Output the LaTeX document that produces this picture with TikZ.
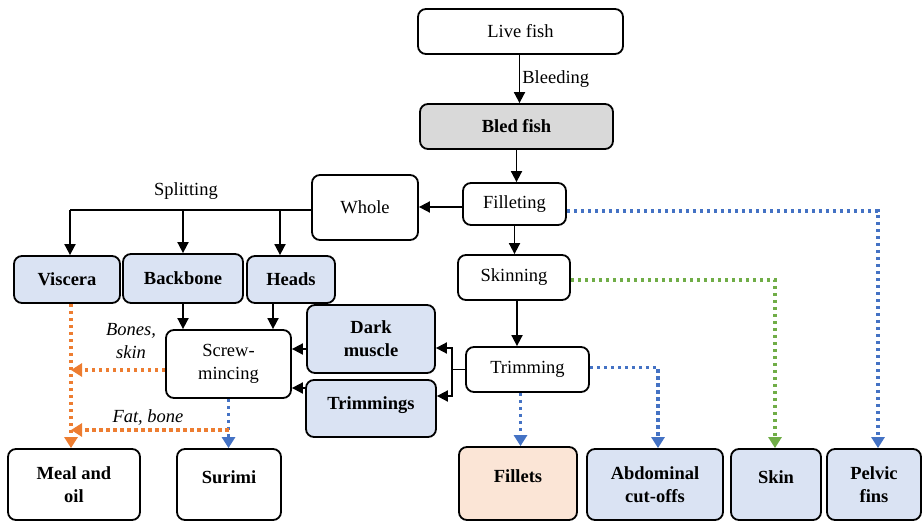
\documentclass[tikz,border=0pt]{standalone}
\usepackage{fontspec}
\setmainfont{Liberation Serif}
\usetikzlibrary{arrows.meta}
\definecolor{boxblue}{HTML}{DAE3F3}
\definecolor{boxgray}{HTML}{D9D9D9}
\definecolor{boxpeach}{HTML}{FBE5D6}
\definecolor{lnblue}{HTML}{4472C4}
\definecolor{lngreen}{HTML}{70AD47}
\definecolor{lnorange}{HTML}{ED7D31}
\begin{document}
\begin{tikzpicture}[x=1pt,y=-1pt,
  every node/.style={font=\fontsize{18.5}{23}\selectfont},
  box/.style={draw, rounded corners=8pt, line width=1.8pt, align=center, inner sep=0pt},
  side/.style={box, fill=boxblue, font=\fontsize{18.5}{23}\selectfont\bfseries},
  final/.style={box, font=\fontsize{18.5}{23}\selectfont\bfseries},
  arr/.style={line width=1.8pt, -{Triangle[length=11pt,width=11pt]}},
  dotarr/.style={line width=3.5pt, dash pattern=on 3.5pt off 3.5pt, -{Triangle[length=11pt,width=13pt]}},
  note/.style={font=\fontsize{18.5}{23}\selectfont\itshape, align=center}]
\useasboundingbox (0,0) rectangle (923,521);

% main processing chain
\node[box, minimum width=205pt, minimum height=45pt] (live) at (520.5,31.5) {Live fish};
\node[box, fill=boxgray, font=\fontsize{18.5}{23}\selectfont\bfseries, minimum width=193pt, minimum height=45pt] (bled) at (516.5,126.5) {Bled fish};
\node[box, minimum width=103pt, minimum height=42pt] (fillet) at (514.5,204) {Filleting};
\node[box, minimum width=106pt, minimum height=65pt] (whole) at (365,207.5) {Whole};
\node[box, minimum width=112pt, minimum height=45pt] (skinning) at (514,277.5) {Skinning};
\node[box, minimum width=123pt, minimum height=45pt] (trimming) at (527.5,369.5) {Trimming};

% by-products of splitting
\node[side, minimum width=106pt, minimum height=47pt] (viscera) at (67,279.5) {Viscera};
\node[side, minimum width=120pt, minimum height=49pt] (backbone) at (183,278.5) {Backbone};
\node[side, minimum width=88pt, minimum height=47pt] (heads) at (291,279.5) {Heads};
\node[box, minimum width=125pt, minimum height=68pt] (screw) at (228.5,364) {Screw-\\mincing};
\node[side, minimum width=128pt, minimum height=68pt] (dark) at (371,339) {Dark\\muscle};
\node[side, minimum width=130pt, minimum height=57pt] (trims) at (371,408.5) {Trimmings\\[-12pt]\mbox{}};

% end products
\node[final, minimum width=132pt, minimum height=71pt] (meal) at (74,484.5) {Meal and\\oil};
\node[final, minimum width=104pt, minimum height=71pt] (surimi) at (229,484.5) {Surimi\\[-8pt]\mbox{}};
\node[final, fill=boxpeach, minimum width=118pt, minimum height=73pt] (fillets) at (518,483.5) {Fillets\\[-8pt]\mbox{}};
\node[final, fill=boxblue, minimum width=136pt, minimum height=71pt] (abd) at (655,484.5) {Abdominal\\cut-offs};
\node[final, fill=boxblue, minimum width=90pt, minimum height=71pt] (skin) at (776,484.5) {Skin\\[-8pt]\mbox{}};
\node[final, fill=boxblue, minimum width=94pt, minimum height=71pt] (pelvic) at (874,484.5) {Pelvic\\fins};

% solid process flow
\draw[arr] ([xshift=-1pt]live.south) -- node[right, inner sep=2pt] {Bleeding} ([xshift=-1pt]live.south |- bled.north);
\draw[arr] (bled.south) -- (bled.south |- fillet.north);
\draw[arr] ([yshift=-3pt]fillet.west) -- ([yshift=-3pt]fillet.west -| whole.east);
\draw[arr] (fillet.south) -- (fillet.south |- skinning.north);
\draw[arr] ([xshift=3pt]skinning.south) -- ([xshift=3pt]skinning.south |- trimming.north);

% splitting of the whole fish
\coordinate (split) at (70,210);
\draw[line width=1.8pt] ([yshift=-2.5pt]whole.west) -- (split);
\draw[arr] (split) -- (split |- viscera.north);
\draw[arr] (split -| backbone.north) -- (backbone.north);
\draw[arr] (split -| 280,0) -- ([xshift=-11pt]heads.north);
\node at (186,191) {Splitting};

% into the screw mincer
\draw[arr] (backbone.south) -- (backbone.south |- screw.north);
\draw[arr] ([xshift=-18pt]heads.south) -- ([xshift=-18pt]heads.south |- screw.north);
\draw[arr] ([yshift=-10pt]dark.west) -- ([yshift=-10pt]dark.west -| screw.east);
\draw[arr] ([yshift=20.5pt]trims.west) -- ([yshift=20.5pt]trims.west -| screw.east);

% trimming splits into dark muscle and trimmings
\coordinate (fork) at (452,369.5);
\draw[line width=1.8pt] (trimming.west) -- (fork);
\draw[arr] (fork) |- ([yshift=-9pt]dark.east);
\draw[arr] (fork) |- ([yshift=12.5pt]trims.east);

% by-product streams
\draw[dotarr, lnblue] ([yshift=-7pt]fillet.east) -| ([xshift=4pt]pelvic.north);
\draw[dotarr, lngreen] ([yshift=-2.5pt]skinning.east) -| ([xshift=-1pt]skin.north);
\draw[dotarr, lnblue] ([yshift=2pt]trimming.east) -| ([xshift=3pt]abd.north);
\draw[dotarr, lnblue] ([xshift=-7pt]trimming.south) -- ([xshift=-7pt]trimming.south |- fillets.north);
\draw[dotarr, lnblue] (screw.south) -- (screw.south |- surimi.north);

% streams to meal and oil
\coordinate (mealx) at (71,0);
\draw[dotarr, lnorange] (viscera.south -| mealx) -- (meal.north -| mealx);
\draw[dotarr, lnorange] ([yshift=-6pt]screw.west) -- ([yshift=-6pt]screw.west -| mealx);
\coordinate (fat) at (228.5,430);
\draw[dotarr, lnorange] (fat) -- (fat -| mealx);
\node[note] at (131,341) {Bones,\\skin};
\node[note] at (148,418) {Fat, bone};
\end{tikzpicture}
\end{document}
